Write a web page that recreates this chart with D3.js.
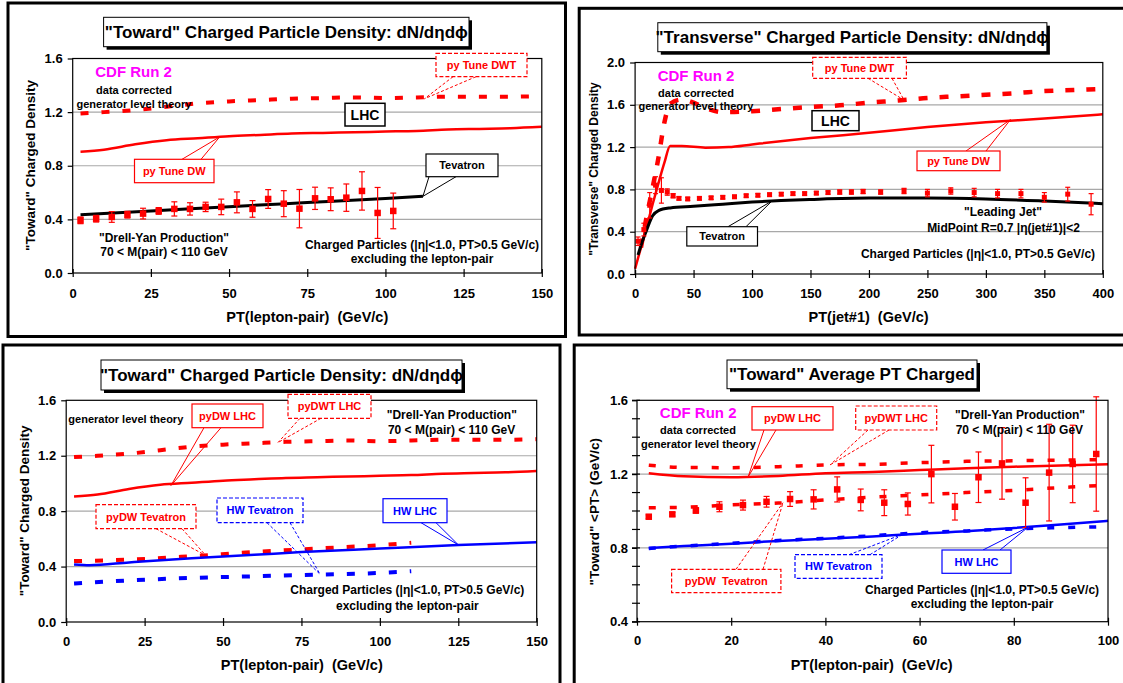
<!DOCTYPE html>
<html><head><meta charset="utf-8">
<script src="https://cdn.jsdelivr.net/npm/d3@7"></script>
<style>
body{margin:0;background:#fff;}
svg{display:block;}
text{white-space:pre;}
</style></head><body>
<svg id="c" width="1123" height="683"></svg>
<script>
// ================= DATA =================
// Panel A: "Toward" density vs PT(lepton-pair), CDF data + Tevatron/LHC theory
const dyBinsA = [2.5,7.5,12.5,17.5,22.5,27.5,32.5,37.5,42.5,47.5,52.5,57.5,62.5,67.5,72.5,77.5,82.5,87.5,92.5,97.5,102.5];
const towardData = [0.393,0.405,0.418,0.435,0.443,0.463,0.478,0.478,0.493,0.493,0.527,0.478,0.552,0.517,0.48,0.557,0.55,0.562,0.612,0.448,0.463];
const towardErr  = [0.025,0.025,0.04,0.025,0.04,0.025,0.053,0.046,0.035,0.058,0.078,0.062,0.07,0.097,0.143,0.083,0.085,0.102,0.143,0.19,0.133];
const lhcCurveX  = [2.5,10,20,30,40,50,60,70,80,90,100,110,120,130,140,150];
const pyDWT_LHC  = [1.19,1.20,1.215,1.24,1.265,1.28,1.29,1.30,1.305,1.31,1.305,1.31,1.315,1.315,1.315,1.32];
const pyDW_LHC   = [0.905,0.92,0.96,0.99,1.005,1.02,1.03,1.04,1.045,1.05,1.055,1.06,1.07,1.075,1.08,1.09];
const tevCurveX  = [2.5,25,50,75,100,112];
const pyDW_TevA  = [0.435,0.463,0.495,0.525,0.555,0.572];

// Panel B: "Transverse" density vs PT(jet#1)
const jetX = [2.5,7.5,12.5,17.5,22.5,27.5,32.5,37.5,45,55,65,75,85,95,105,115,125,135,145,155,165,175,185,195,210,230,250,270,290,310,330,350,370,390];
const transData = [0.31,0.42,0.65,0.84,0.79,0.775,0.74,0.715,0.71,0.715,0.72,0.725,0.73,0.74,0.745,0.75,0.755,0.76,0.76,0.765,0.77,0.775,0.775,0.78,0.775,0.785,0.765,0.785,0.77,0.76,0.76,0.725,0.755,0.66];
const transErr  = [0.04,0.06,0.12,0.08,0.12,0.03,0.02,0.015,0.015,0.015,0.015,0.015,0.015,0.015,0.015,0.015,0.015,0.015,0.015,0.015,0.015,0.02,0.02,0.02,0.02,0.025,0.035,0.03,0.04,0.04,0.04,0.045,0.065,0.1];
const transDWT_X = [5,10,15,20,25,30,40,50,60,75,100,125,150,175,200,225,250,275,300,325,350,375,400];
const transDWT   = [0.25,0.55,0.82,1.1,1.43,1.61,1.65,1.62,1.57,1.53,1.54,1.56,1.58,1.595,1.62,1.64,1.665,1.68,1.695,1.71,1.73,1.74,1.75];
const transDW_X  = [0,5,10,15,20,25,30,40,60,80,100,150,200,250,300,350,400];
const transDW    = [0.05,0.25,0.45,0.66,0.86,1.05,1.21,1.21,1.195,1.2,1.225,1.285,1.335,1.39,1.435,1.47,1.51];
const transTev_X = [2.5,5,10,15,20,30,50,75,100,125,150,200,250,300,350,400];
const transTev   = [0.18,0.27,0.42,0.55,0.6,0.625,0.64,0.66,0.68,0.695,0.705,0.718,0.718,0.71,0.69,0.665];

// Panel C: generator-level "Toward" density, PYTHIA & HERWIG
const pyDWTevX = [2.5,20,40,60,80,100,110];
const pyDW_TevC = [0.44,0.45,0.475,0.505,0.53,0.555,0.572];
const hwLHC_X  = [2.5,7.5,20,40,60,75,100,125,150];
const hwLHC    = [0.415,0.41,0.43,0.46,0.485,0.505,0.53,0.555,0.575];
const hwTevX   = [2.5,20,40,60,80,100,110];
const hwTev    = [0.277,0.3,0.318,0.33,0.342,0.354,0.366];

// Panel D: "Toward" average PT
const ptBins = [2.5,7.5,12.5,17.5,22.5,27.5,32.5,37.5,42.5,47.5,52.5,57.5,62.5,67.5,72.5,77.5,82.5,87.5,92.5,97.5];
const ptData = [0.969,0.982,1.003,1.023,1.032,1.05,1.065,1.063,1.117,1.06,1.045,1.038,1.2,1.023,1.183,1.258,1.045,1.208,1.255,1.309];
const ptErr  = [0.01,0.01,0.015,0.027,0.027,0.029,0.04,0.052,0.068,0.059,0.07,0.06,0.156,0.072,0.137,0.194,0.135,0.262,0.21,0.31];
const ptCurveX   = [2.5,10,20,30,40,50,60,70,80,90,100];
const ptDWT_LHC  = [1.248,1.236,1.235,1.24,1.25,1.253,1.262,1.269,1.272,1.276,1.278];
const ptDW_LHC   = [1.205,1.188,1.183,1.19,1.205,1.212,1.222,1.232,1.24,1.247,1.253];
const ptDW_Tev   = [1.018,1.02,1.033,1.043,1.06,1.075,1.087,1.1,1.112,1.127,1.14];
const ptHW_LHC   = [0.8,0.81,0.823,0.838,0.849,0.862,0.877,0.89,0.908,0.927,0.947];
const ptHW_Tev   = [0.797,0.81,0.825,0.84,0.852,0.866,0.882,0.892,0.903,0.91,0.915];

// Tick values
const ticksX150 = [0,25,50,75,100,125,150];
const ticksX400 = [0,50,100,150,200,250,300,350,400];
const ticksX100 = [0,20,40,60,80,100];
const ticksY16  = [0,0.4,0.8,1.2,1.6];
const ticksY20  = [0,0.4,0.8,1.2,1.6,2.0];
const ticksYpt  = [0.4,0.8,1.2,1.6];
const minorYpt  = [0.4,0.5,0.6,0.7,0.8,0.9,1.0,1.1,1.2,1.3,1.4,1.5,1.6];

// ================= DRAWING =================
const FONT = '"Liberation Sans", Arial, Helvetica, sans-serif';
const RED = "#ff0000", BLUE = "#0000ff", MAG = "#ff00ff";
const svg = d3.select("#c").attr("font-family", FONT).attr("font-weight", "bold");
svg.append("rect").attr("width", 1123).attr("height", 683).attr("fill", "#fff");

function label(g, x, y, txt, size, color, rot) {
  const t = g.append("text").attr("x", x).attr("y", y).attr("dy", "0.35em")
    .attr("text-anchor", "middle").attr("font-size", size).attr("fill", color || "#000").text(txt);
  if (rot) t.attr("transform", `rotate(-90,${x},${y})`);
  return t;
}

function panel(cfg) {
  const g = svg.append("g");
  const P = cfg.plot;
  const x = d3.scaleLinear().domain(cfg.xDomain).range([P.l, P.r]);
  const y = d3.scaleLinear().domain(cfg.yDomain).range([P.b, P.t]);
  g.append("rect").attr("x", cfg.frame[0]).attr("y", cfg.frame[1]).attr("width", cfg.frame[2]).attr("height", cfg.frame[3])
    .attr("fill", "none").attr("stroke", "#000").attr("stroke-width", 3);
  g.selectAll(null).data(cfg.grid).join("line")
    .attr("x1", P.l).attr("x2", P.r).attr("y1", d => y(d)).attr("y2", d => y(d))
    .attr("stroke", "#a8a8a8").attr("stroke-width", 1.2);
  const layer = g.append("g");
  g.append("rect").attr("x", P.l).attr("y", P.t).attr("width", P.r - P.l).attr("height", P.b - P.t)
    .attr("fill", "none").attr("stroke", "#000").attr("stroke-width", 1.2);
  const xa = g.append("g").attr("transform", `translate(0,${P.b})`)
    .call(d3.axisBottom(x).tickValues(cfg.xTicks).tickSize(4).tickFormat(d3.format("d")));
  xa.select(".domain").remove();
  xa.attr("font-family", FONT).attr("font-size", 13).attr("font-weight", "bold");
  xa.selectAll(".tick line").attr("y1", -4).attr("y2", 4).attr("stroke", "#000").attr("stroke-width", 1.2);
  xa.selectAll(".tick text").attr("y", cfg.xLabOff).attr("dy", "0.35em").attr("fill", "#000");
  const ya = g.append("g").attr("transform", `translate(${P.l},0)`)
    .call(d3.axisLeft(y).tickValues(cfg.yTicks).tickSize(5).tickFormat(d3.format(".1f")));
  ya.select(".domain").remove();
  ya.attr("font-family", FONT).attr("font-size", 13).attr("font-weight", "bold");
  ya.selectAll(".tick line").attr("stroke", "#000").attr("stroke-width", 1.2);
  ya.selectAll(".tick text").attr("x", -cfg.yLabOff).attr("fill", "#000");
  if (cfg.minorY) {
    g.selectAll(null).data(cfg.minorY).join("line")
      .attr("x1", P.l - 5).attr("x2", P.l + 3).attr("y1", d => y(d)).attr("y2", d => y(d))
      .attr("stroke", "#000").attr("stroke-width", 1.2);
  }
  // title box with shadow
  const tb = cfg.titleBox;
  g.append("rect").attr("x", tb[0] + 3).attr("y", tb[1] + 3).attr("width", tb[2]).attr("height", tb[3]).attr("fill", "#000");
  g.append("rect").attr("x", tb[0]).attr("y", tb[1]).attr("width", tb[2]).attr("height", tb[3]).attr("fill", "#fff").attr("stroke", "#000").attr("stroke-width", 1);
  label(g, tb[0] + tb[2] / 2, tb[1] + tb[3] / 2, cfg.title, 17);
  label(g, cfg.xTitlePos[0], cfg.xTitlePos[1], cfg.xTitle, 14.5);
  label(g, cfg.yTitlePos[0], cfg.yTitlePos[1], cfg.yTitle, cfg.yTitleSize, "#000", true);
  return { g, layer, x, y };
}

function curve(p, xs, ys, color, width, dash) {
  p.layer.append("path").datum(d3.range(xs.length))
    .attr("d", d3.line().x(i => p.x(xs[i])).y(i => p.y(ys[i])).curve(d3.curveMonotoneX))
    .attr("fill", "none").attr("stroke", color).attr("stroke-width", width)
    .attr("stroke-dasharray", dash || null).attr("stroke-linejoin", "round");
}

function points(p, xs, ys, es, size, cap) {
  const g = p.layer.append("g").attr("stroke", RED).attr("stroke-width", 1.2);
  xs.forEach((xv, i) => {
    const cx = p.x(xv), y1 = p.y(ys[i] - es[i]), y2 = p.y(ys[i] + es[i]);
    g.append("line").attr("x1", cx).attr("x2", cx).attr("y1", y1).attr("y2", y2);
    g.append("line").attr("x1", cx - cap / 2).attr("x2", cx + cap / 2).attr("y1", y1).attr("y2", y1);
    g.append("line").attr("x1", cx - cap / 2).attr("x2", cx + cap / 2).attr("y1", y2).attr("y2", y2);
    g.append("rect").attr("x", cx - size / 2).attr("y", p.y(ys[i]) - size / 2).attr("width", size).attr("height", size)
      .attr("fill", RED).attr("stroke", "none");
  });
}

function callout(p, a) {
  const g = p.g.append("g");
  if (a.target) {
    const tx = p.x(a.target[0]), ty = p.y(a.target[1]);
    a.attach.forEach(pt => {
      g.append("line").attr("x1", pt[0]).attr("y1", pt[1]).attr("x2", tx).attr("y2", ty)
        .attr("stroke", a.color).attr("stroke-width", 1).attr("stroke-dasharray", a.dashed ? "3,2" : null);
    });
  }
  const b = a.box;
  g.append("rect").attr("x", b[0]).attr("y", b[1]).attr("width", b[2]).attr("height", b[3])
    .attr("fill", "#fff").attr("stroke", a.color).attr("stroke-width", a.lw || 1.2)
    .attr("stroke-dasharray", a.dashed ? "4,2" : null);
  label(g, b[0] + b[2] / 2, b[1] + b[3] / 2, a.text, a.size || 11, a.color);
}

// ---------- Panel A ----------
const pA = panel({
  frame: [8, 3, 557.5, 333.5], plot: { l: 72.7, r: 541.8, t: 58.5, b: 273 },
  xDomain: [0, 150], yDomain: [0, 1.6], xTicks: ticksX150, yTicks: ticksY16, grid: [0.4, 0.8, 1.2],
  xLabOff: 20, yLabOff: 10,
  titleBox: [103.6, 17.3, 365.4, 29.4], title: "\"Toward\" Charged Particle Density: dN/dηdϕ",
  xTitle: "PT(lepton-pair)  (GeV/c)", xTitlePos: [307.3, 316.7],
  yTitle: "\"Toward\" Charged Density", yTitlePos: [30, 165.5], yTitleSize: 13.5
});
curve(pA, lhcCurveX, pyDWT_LHC, RED, 4, "8,13");
curve(pA, lhcCurveX, pyDW_LHC, RED, 2.5);
curve(pA, tevCurveX, pyDW_TevA, "#000", 3);
points(pA, dyBinsA, towardData, towardErr, 6.5, 6);
label(pA.g, 133.6, 71.7, "CDF Run 2", 15, MAG);
label(pA.g, 134, 90, "data corrected", 11);
label(pA.g, 134, 104.3, "generator level theory", 11);
label(pA.g, 164, 237.3, "\"Drell-Yan Production\"", 12);
label(pA.g, 164, 251.7, "70 < M(pair) < 110 GeV", 12);
label(pA.g, 422, 244.3, "Charged Particles (|η|<1.0, PT>0.5 GeV/c)", 12);
label(pA.g, 422, 259, "excluding the lepton-pair", 12);
callout(pA, { box: [436, 53.3, 91, 23.4], text: "py Tune DWT", color: RED, dashed: true, attach: [[453, 76.7], [476, 76.7]], target: [112.5, 1.30] });
callout(pA, { box: [345, 103.3, 40, 22.7], text: "LHC", color: "#000", size: 14, lw: 1.5 });
callout(pA, { box: [134.5, 159.3, 79.5, 23.4], text: "py Tune DW", color: RED, attach: [[182, 159.3], [201, 159.3]], target: [47, 1.015] });
callout(pA, { box: [426, 154, 72, 22.7], text: "Tevatron", color: "#000", attach: [[429, 176.7], [456, 176.7]], target: [112, 0.572] });

// ---------- Panel B ----------
const pB = panel({
  frame: [579.2, 8.3, 560, 326.7], plot: { l: 635.1, r: 1102.8, t: 62.5, b: 274 },
  xDomain: [0, 400], yDomain: [0, 2.0], xTicks: ticksX400, yTicks: ticksY20, grid: [0.4, 0.8, 1.2, 1.6],
  xLabOff: 19.3, yLabOff: 10,
  titleBox: [657.8, 22.7, 389.1, 29], title: "\"Transverse\" Charged Particle Density: dN/dηdϕ",
  xTitle: "PT(jet#1)  (GeV/c)", xTitlePos: [868.6, 316.7],
  yTitle: "\"Transverse\" Charged Density", yTitlePos: [594.2, 169], yTitleSize: 12
});
curve(pB, transDWT_X, transDWT, RED, 4.5, "9,12");
curve(pB, transDW_X, transDW, RED, 2.5);
curve(pB, transTev_X, transTev, "#000", 3);
points(pB, jetX, transData, transErr, 5, 5);
label(pB.g, 696, 76, "CDF Run 2", 15, MAG);
label(pB.g, 696, 92.7, "data corrected", 11);
label(pB.g, 696, 106, "generator level theory", 11);
label(pB.g, 1003, 211.7, "\"Leading Jet\"", 12);
label(pB.g, 1003.5, 227.3, "MidPoint R=0.7 |η(jet#1)|<2", 12);
label(pB.g, 978, 253.3, "Charged Particles (|η|<1.0, PT>0.5 GeV/c)", 12);
callout(pB, { box: [812.7, 57.3, 93.7, 21], text: "py Tune DWT", color: RED, dashed: true, attach: [[868, 78.3], [892, 78.3]], target: [230, 1.645] });
callout(pB, { box: [812, 110.7, 47, 20], text: "LHC", color: "#000", size: 14, lw: 1.5 });
callout(pB, { box: [917, 151, 83, 19.7], text: "py Tune DW", color: RED, attach: [[966, 151], [986, 151]], target: [321, 1.46] });
callout(pB, { box: [686.8, 226.7, 70.7, 19.3], text: "Tevatron", color: "#000", attach: [[728, 226.7], [746, 226.7]], target: [117, 0.69] });

// ---------- Panel C ----------
const pC = panel({
  frame: [3, 345, 557, 345], plot: { l: 66.2, r: 536.7, t: 400.3, b: 622 },
  xDomain: [0, 150], yDomain: [0, 1.6], xTicks: ticksX150, yTicks: ticksY16, grid: [0.4, 0.8, 1.2],
  xLabOff: 19.7, yLabOff: 10,
  titleBox: [101, 360, 361, 30], title: "\"Toward\" Charged Particle Density: dN/dηdϕ",
  xTitle: "PT(lepton-pair)  (GeV/c)", xTitlePos: [301.8, 665],
  yTitle: "\"Toward\" Charged Density", yTitlePos: [24.7, 510.8], yTitleSize: 13.5
});
curve(pC, lhcCurveX, pyDWT_LHC, RED, 4, "8,13");
curve(pC, lhcCurveX, pyDW_LHC, RED, 2.5);
curve(pC, pyDWTevX, pyDW_TevC, RED, 4, "8,13");
curve(pC, hwLHC_X, hwLHC, BLUE, 2.5);
curve(pC, hwTevX, hwTev, BLUE, 4, "8,13");
label(pC.g, 125.8, 419.3, "generator level theory", 11);
label(pC.g, 451.8, 415, "\"Drell-Yan Production\"", 12);
label(pC.g, 451.6, 430, "70 < M(pair) < 110 GeV", 12);
label(pC.g, 407.3, 590, "Charged Particles (|η|<1.0, PT>0.5 GeV/c)", 12);
label(pC.g, 407.3, 605.7, "excluding the lepton-pair", 12);
callout(pC, { box: [192, 404, 71, 23.7], text: "pyDW LHC", color: RED, attach: [[204, 427.7], [221, 427.7]], target: [33.4, 0.985] });
callout(pC, { box: [288, 394.3, 83, 24], text: "pyDWT LHC", color: RED, dashed: true, attach: [[300, 418.3], [321, 418.3]], target: [67.5, 1.295] });
callout(pC, { box: [96, 504.7, 100, 24], text: "pyDW Tevatron", color: RED, dashed: true, attach: [[156, 528.7], [182, 528.7]], target: [44.5, 0.48] });
callout(pC, { box: [217, 498, 86, 24.7], text: "HW Tevatron", color: BLUE, dashed: true, attach: [[267, 522.7], [290, 522.7]], target: [81, 0.343] });
callout(pC, { box: [383, 498.7, 64, 24], text: "HW LHC", color: BLUE, attach: [[421, 522.7], [436, 522.7]], target: [125, 0.557] });

// ---------- Panel D ----------
const pD = panel({
  frame: [574.2, 345, 560, 345], plot: { l: 637, r: 1108, t: 400.3, b: 621.7 },
  xDomain: [0, 100], yDomain: [0.4, 1.6], xTicks: ticksX100, yTicks: ticksYpt, grid: [0.8, 1.2], minorY: minorYpt,
  xLabOff: 18.3, yLabOff: 9,
  titleBox: [727, 360, 250, 28.7], title: "\"Toward\" Average PT Charged",
  xTitle: "PT(lepton-pair)  (GeV/c)", xTitlePos: [871.6, 665],
  yTitle: "\"Toward\" <PT> (GeV/c)", yTitlePos: [594.7, 511.7], yTitleSize: 13.5
});
curve(pD, ptCurveX, ptDWT_LHC, RED, 3.5, "7,14");
curve(pD, ptCurveX, ptDW_LHC, RED, 2.5);
curve(pD, ptCurveX, ptDW_Tev, RED, 3.5, "7,14");
curve(pD, ptCurveX, ptHW_LHC, BLUE, 2.5);
curve(pD, ptCurveX, ptHW_Tev, BLUE, 3.5, "7,14");
points(pD, ptBins, ptData, ptErr, 6.5, 6);
label(pD.g, 698.2, 412.7, "CDF Run 2", 15, MAG);
label(pD.g, 698, 430.3, "data corrected", 11);
label(pD.g, 698.4, 444.3, "generator level theory", 11);
label(pD.g, 1020, 415, "\"Drell-Yan Production\"", 12);
label(pD.g, 1019.4, 430, "70 < M(pair) < 110 GeV", 12);
label(pD.g, 982, 589.3, "Charged Particles (|η|<1.0, PT>0.5 GeV/c)", 12);
label(pD.g, 982, 604, "excluding the lepton-pair", 12);
callout(pD, { box: [752, 406.7, 81, 23.3], text: "pyDW LHC", color: RED, attach: [[764, 430], [776, 430]], target: [23.6, 1.185] });
callout(pD, { box: [855.7, 406, 81, 24], text: "pyDWT LHC", color: RED, dashed: true, attach: [[868, 430], [889, 430]], target: [41, 1.25] });
callout(pD, { box: [671.6, 569.3, 109.3, 23.3], text: "pyDW  Tevatron", color: RED, dashed: true, attach: [[736, 569.3], [763, 569.3]], target: [31, 1.045] });
callout(pD, { box: [795, 554.7, 87, 23.7], text: "HW Tevatron", color: BLUE, dashed: true, attach: [[849, 554.7], [870, 554.7]], target: [56.5, 0.875] });
callout(pD, { box: [942, 550, 69, 23.3], text: "HW LHC", color: BLUE, attach: [[983, 550], [1000, 550]], target: [83, 0.912] });
</script>
</body></html>
